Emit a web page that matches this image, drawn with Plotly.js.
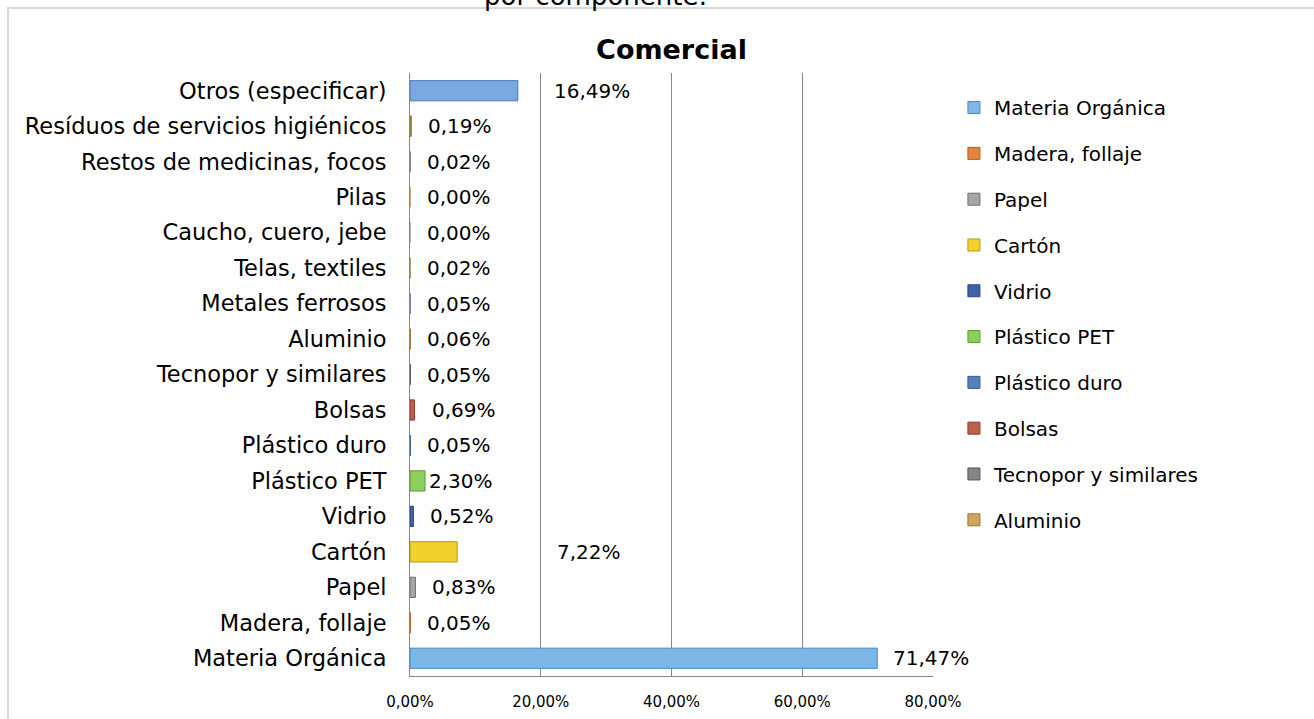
<!DOCTYPE html>
<html>
<head>
<meta charset="utf-8">
<script src="https://cdn.plot.ly/plotly-3.0.1.min.js"></script>
<style>
  html, body { margin: 0; padding: 0; background: #ffffff; overflow: hidden; }
  #frame { position: absolute; left: 7px; top: 7px; width: 1400px; height: 800px; border: 2px solid #d9d9d9; box-sizing: border-box; }
  #chart { position: absolute; left: 0; top: 0; width: 1314px; height: 719px; }
</style>
</head>
<body>
<div id="frame"></div>
<div id="chart"></div>
<script>
// ---- data (bottom to top) ----
var categories = [
  'Materia Orgánica', 'Madera, follaje', 'Papel', 'Cartón', 'Vidrio',
  'Plástico PET', 'Plástico duro', 'Bolsas', 'Tecnopor y similares', 'Aluminio',
  'Metales ferrosos', 'Telas, textiles', 'Caucho, cuero, jebe', 'Pilas',
  'Restos de medicinas, focos', 'Resíduos de servicios higiénicos', 'Otros (especificar)'
];
var values = [71.47, 0.05, 0.83, 7.22, 0.52, 2.30, 0.05, 0.69, 0.05, 0.06,
              0.05, 0.02, 0.00, 0.00, 0.02, 0.19, 16.49];
var xTickValues = [0, 20, 40, 60, 80];
var chartTitle = 'Comercial';
var docText = 'por componente:';

// ---- styles ----
var fillColors = ['#7db7e8', '#e6823f', '#a6a6a6', '#f2d12e', '#3f62ad',
                  '#8ccf5f', '#5580c0', '#c0604a', '#858585', '#d0a55a',
                  '#9ab0d8', '#a8c88a', '#c8c8c8', '#e0c870', '#a0a0a0', '#b8a040', '#7ba8e0'];
var lineColors = ['#4a86c5', '#b55a1f', '#707070', '#b89a10', '#2a4580',
                  '#5a9a35', '#35598f', '#8a3a2a', '#555555', '#9a7530',
                  '#6a80a8', '#78985a', '#989898', '#b09840', '#707070', '#887010', '#4a78b8'];
var labelShift = [14, 15, 15, 98, 15, 2, 15, 15, 15, 15, 15, 15, 15, 15, 15, 15, 34];
var legendCount = 10;
var FONT = 'DejaVu Sans, sans-serif';

function fmt(v) { return v.toFixed(2).replace('.', ',') + '%'; }

var traces = categories.map(function (c, i) {
  return {
    type: 'bar',
    orientation: 'h',
    name: c,
    y: [c],
    x: [values[i]],
    legendgroup: 'g' + i,
    showlegend: i < legendCount,
    marker: { color: fillColors[i], line: { color: lineColors[i], width: 1 } },
    hoverinfo: 'none'
  };
});

var annotations = categories.map(function (c, i) {
  return {
    x: values[i], y: c, xref: 'x', yref: 'y',
    text: fmt(values[i]), showarrow: false,
    xanchor: 'left', yanchor: 'middle', xshift: labelShift[i],
    font: { family: FONT, size: 20, color: '#000000' }
  };
});
annotations.push({
  xref: 'paper', yref: 'paper', x: 0.355, y: 1.1, xanchor: 'center', yanchor: 'bottom',
  text: docText, showarrow: false, font: { family: FONT, size: 26, color: '#000000' }
});

var layout = {
  width: 1314, height: 719,
  paper_bgcolor: 'rgba(0,0,0,0)',
  plot_bgcolor: 'rgba(0,0,0,0)',
  separators: ',.',
  margin: { l: 410, r: 381, t: 73, b: 43, autoexpand: false },
  barmode: 'overlay',
  bargap: 0.43,
  title: {
    text: '<b>' + chartTitle + '</b>',
    font: { family: FONT, size: 27, color: '#000000' },
    x: 0.5, xref: 'paper', xanchor: 'center',
    y: 1 - 50 / 719, yref: 'container', yanchor: 'middle'
  },
  xaxis: {
    range: [0, 80],
    tickmode: 'array',
    tickvals: xTickValues,
    ticktext: xTickValues.map(fmt),
    showgrid: true, gridcolor: '#868686', gridwidth: 1,
    showline: true, linecolor: '#868686', linewidth: 1,
    zeroline: false, ticks: '',
    ticklabelstandoff: 12,
    tickfont: { family: FONT, size: 15, color: '#000000' },
    fixedrange: true
  },
  yaxis: {
    type: 'category',
    categoryorder: 'array', categoryarray: categories,
    showgrid: false, showline: true, linecolor: '#868686', linewidth: 1,
    zeroline: false, ticks: '',
    ticklabelstandoff: 18,
    tickfont: { family: FONT, size: 22.5, color: '#000000' },
    fixedrange: true
  },
  legend: {
    x: 1.040, y: 0.975, xanchor: 'left', yanchor: 'top',
    itemwidth: 30,
    traceorder: 'grouped', tracegroupgap: 16.8,
    font: { family: FONT, size: 20, color: '#000000' },
    bgcolor: 'rgba(0,0,0,0)', borderwidth: 0
  },
  annotations: annotations,
  showlegend: true
};

Plotly.newPlot('chart', traces, layout, { displayModeBar: false, staticPlot: true });
</script>
</body>
</html>
